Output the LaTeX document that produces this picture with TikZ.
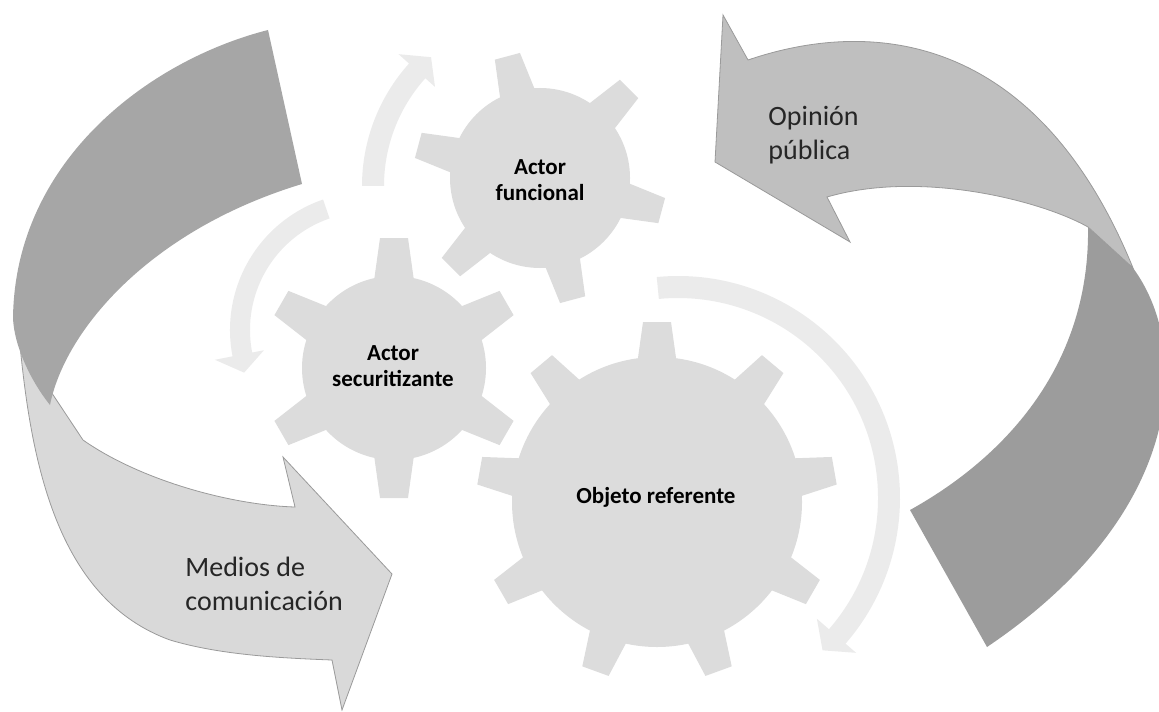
\documentclass[tikz,border=0pt]{standalone}
\usepackage{fontspec}
\setmainfont{Carlito}
\definecolor{gearc}{HTML}{DCDCDC}
\definecolor{circarr}{HTML}{EBEBEB}
\definecolor{mdark}{HTML}{A6A6A6}
\definecolor{mlight}{HTML}{D9D9D9}
\definecolor{olight}{HTML}{BFBFBF}
\definecolor{odark}{HTML}{9C9C9C}
\definecolor{edgec}{HTML}{9A9A9A}
\tikzset{
  gearfill/.style={fill=gearc, draw=none},
  ringarrow/.style={fill=circarr, draw=none},
  biglabel/.style={font=\fontsize{14}{17}\selectfont, text=black!85, align=left, inner sep=0pt},
  gearlabel/.style={font=\fontsize{11.5}{13.2}\selectfont\bfseries, text=black, align=center, inner sep=0pt}
}
\begin{document}
\begin{tikzpicture}[x=0.5pt,y=0.5pt]
\useasboundingbox (0,0) rectangle (1159,-711);

% ---------- left big arrow: Medios de comunicacion ----------
\fill[mlight, draw=edgec, line width=0.4pt]
  (20,-345) .. controls (32,-470) and (60,-600) .. (170,-640)
  .. controls (220,-655) and (280,-658) .. (332,-660)
  -- (342,-710) -- (392,-574) -- (283,-457) -- (295,-507)
  .. controls (230,-505) and (140,-480) .. (83,-440)
  -- cycle;
\fill[mdark]
  (268,-30) .. controls (150,-60) and (15,-160) .. (13,-318)
  .. controls (14,-345) and (30,-380) .. (50,-405)
  .. controls (65,-330) and (150,-230) .. (302,-184)
  -- cycle;

% ---------- right big arrow: Opinion publica ----------
\fill[odark]
  (1088,-227) -- (1133,-268)
  .. controls (1190,-345) and (1190,-510) .. (987,-647)
  -- (910,-510)
  .. controls (1000,-460) and (1090,-370) .. (1088,-227)
  -- cycle;
\fill[olight, draw=edgec, line width=0.4pt]
  (723,-15) -- (748,-60)
  .. controls (880,-15) and (1040,-40) .. (1133,-268)
  -- (1088,-227)
  .. controls (1040,-200) and (920,-170) .. (827,-197)
  -- (850,-242) -- (715,-162) -- cycle;

% ---------- gears ----------
\begin{scope}[shift={(657,-502)}]
  \fill[gearfill] (0,0) circle[radius=145];
  \foreach \a in {90,130,...,410}
    \fill[gearfill, rotate=\a] (130,-21) -- (180,-14) -- (180,14) -- (130,21) -- cycle;
\end{scope}
\begin{scope}[shift={(540,-178)}]
  \fill[gearfill] (0,0) circle[radius=90];
  \foreach \a in {105,165,...,405}
    \fill[gearfill, rotate=\a] (78,-19) -- (126,-13) -- (126,13) -- (78,19) -- cycle;
\end{scope}
\begin{scope}[shift={(394,-368)}]
  \fill[gearfill] (0,0) circle[radius=92];
  \foreach \a in {90,150,...,390}
    \fill[gearfill, rotate=\a] (80,-21) -- (130,-14) -- (130,14) -- (80,21) -- cycle;
\end{scope}

% ---------- circular arrows ----------
\begin{scope}[shift={(545,-186)}]
  \fill[ringarrow] (180:183) arc[start angle=180, end angle=138, radius=183]
    -- (138:197) -- (131.5:172) -- (138:148) -- (138:161)
    arc[start angle=138, end angle=180, radius=161] -- cycle;
\end{scope}
\begin{scope}[shift={(368,-330)}]
  \fill[ringarrow] (109:138) arc[start angle=109, end angle=191, radius=138]
    -- (191:156) -- (199:131) -- (191:106) -- (191:118)
    arc[start angle=191, end angle=109, radius=118] -- cycle;
\end{scope}
\begin{scope}[shift={(678,-498)}]
  \fill[ringarrow] (95.5:222) arc[start angle=95.5, end angle=-41, radius=222]
    -- (-41:236) -- (-46.5:210) -- (-41:184) -- (-41:200)
    arc[start angle=-41, end angle=95.5, radius=200] -- cycle;
\end{scope}

% ---------- labels ----------
\node[gearlabel] (funcional) at (540,-180) {Actor\\funcional};
\node[gearlabel] (securit) at (393,-366) {Actor\\securitizante};
\node[gearlabel] (objeto) at (656,-497) {Objeto referente};
\node[biglabel, anchor=west] (medios) at (185,-584) {Medios de\\comunicación};
\node[biglabel, anchor=west] (opinion) at (768,-135) {Opinión\\pública};
\end{tikzpicture}
\end{document}
